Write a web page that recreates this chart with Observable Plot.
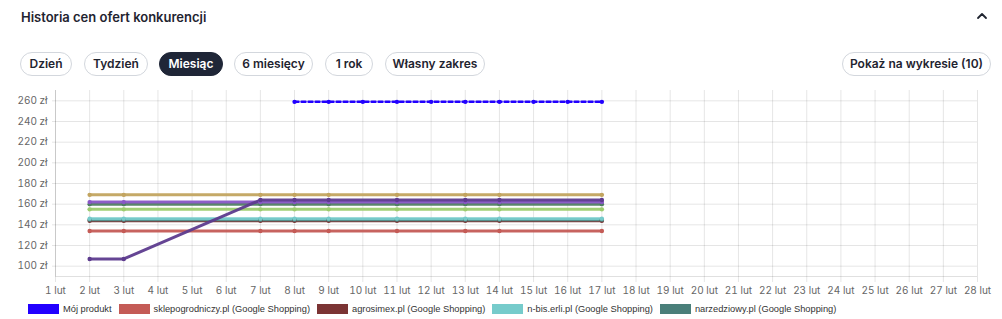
<!DOCTYPE html>
<html>
<head>
<meta charset="utf-8">
<script src="https://cdn.jsdelivr.net/npm/d3@7"></script>
<script src="https://cdn.jsdelivr.net/npm/@observablehq/plot@0.6"></script>
<style>
  html, body { margin: 0; padding: 0; background: #fff; }
  body { width: 1002px; height: 319px; position: relative; overflow: hidden; font-family: Inter, "Noto Sans", sans-serif; color: #1f2430; }
  #title { position: absolute; left: 21px; top: 8px; font-size: 13px; font-weight: 600; line-height: 18px; color: #1f2430; }
  #chev { position: absolute; left: 976px; top: 11px; }
  .btn { position: absolute; top: 52px; height: 24px; box-sizing: border-box; border: 1px solid #d3d7dd; border-radius: 12px; font-size: 12px; font-weight: 600; line-height: 22px; text-align: center; color: #1f2430; background: #fff; }
  .btn.active { background: #1f2637; border-color: #1f2637; color: #fff; }
  #chart { position: absolute; left: 0; top: 85px; }
  #legend { position: absolute; left: 28px; top: 304px; display: flex; align-items: center; font-family: "Liberation Sans", Arial, sans-serif; font-size: 9.3px; color: #333; white-space: nowrap; }
  .item { display: flex; align-items: center; margin-right: 7px; }
  .sw { width: 31px; height: 10px; margin-right: 4px; box-sizing: border-box; }
</style>
</head>
<body>
<div id="title">Historia cen ofert konkurencji</div>
<svg id="chev" width="12" height="10" viewBox="0 0 12 10"><polyline points="2,7 6,3 10,7" fill="none" stroke="#1f2430" stroke-width="1.8" stroke-linecap="round" stroke-linejoin="round"/></svg>
<div id="buttons"></div>
<div id="chart"></div>
<div id="legend"></div>
<script>
// ---- data ----
const periodButtons = ["Dzień", "Tydzień", "Miesiąc", "6 miesięcy", "1 rok", "Własny zakres"];
const activeButton = "Miesiąc";
const showButton = "Pokaż na wykresie (10)";

const dayTicks = [1,2,3,4,5,6,7,8,9,10,11,12,13,14,15,16,17,18,19,20,21,22,23,24,25,26,27,28];
const priceTicks = [100,120,140,160,180,200,220,240,260];

const myName = "Mój produkt";
const myDays = [8,9,10,11,12,13,14,15,16,17];
const myPrices = [259,259,259,259,259,259,259,259,259,259];

const compDays = [2,3,7,8,9,11,13,14,17];
const seriesNames = [
  "sklepogrodniczy.pl (Google Shopping)",
  "agrosimex.pl (Google Shopping)",
  "n-bis.erli.pl (Google Shopping)",
  "narzedziowy.pl (Google Shopping)",
  "oferta 6",
  "oferta 7",
  "oferta 8",
  "oferta 9",
  "oferta 10"
];
const sklepogrodniczy = [134,134,134,134,134,134,134,134,134];
const agrosimex       = [144,144,144,144,144,144,144,144,144];
const nbis            = [146,146,146,146,146,146,146,146,146];
const narzedziowy     = [160,160,160,160,160,160,160,160,160];
const oferta6         = [169,169,169,169,169,169,169,169,169];
const oferta7         = [162,162,162,162,162,162,162,162,162];
const oferta8         = [155,155,155,155,155,155,155,155,155];
const oferta9         = [107,107,164,164,164,164,164,164,164];
const oferta10        = [145,145,145,145,145,145,145,145,145];
const seriesValues = [sklepogrodniczy, agrosimex, nbis, narzedziowy, oferta6, oferta7, oferta8, oferta9, oferta10];
const seriesColors = ["#c45b56", "#7b3434", "#76cbcb", "#4f7f62", "#c2a45f", "#8856c6", "#9dcc6e", "#5d3b8e", "#4a7f7a"];
const myColor = "#2200ff";
const legendNames = [myName, seriesNames[0], seriesNames[1], seriesNames[2], seriesNames[3]];
const legendColors = [myColor, "#c45b56", "#7b3434", "#76cbcb", "#4a7f7a"];

// ---- buttons ----
const btnLefts = [20, 84, 159, 234, 325, 385];
const btnWidths = [52, 64, 64, 79, 48, 100];
const bc = document.getElementById("buttons");
periodButtons.forEach((b, i) => {
  const d = document.createElement("div");
  d.className = "btn" + (b === activeButton ? " active" : "");
  d.style.left = btnLefts[i] + "px";
  d.style.width = btnWidths[i] + "px";
  d.textContent = b;
  bc.appendChild(d);
});
const sb = document.createElement("div");
sb.className = "btn";
sb.style.left = "842px"; sb.style.width = "149px";
sb.textContent = showButton;
bc.appendChild(sb);

// ---- table ----
const comp = [];
seriesNames.forEach((n, si) => {
  compDays.forEach((d, i) => comp.push({name: n, day: d, price: seriesValues[si][i]}));
});
const mine = myDays.map((d, i) => ({name: myName, day: d, price: myPrices[i]}));
const order = [0, 1, 8, 2, 6, 3, 4, 5, 7];
const compOrdered = order.flatMap(si => comp.filter(r => r.name === seriesNames[si]));

const colorDomain = [myName, ...seriesNames];
const colorRange = [myColor, ...seriesColors];

const chart = Plot.plot({
  width: 1002,
  height: 213,
  marginLeft: 55,
  marginRight: 25,
  marginTop: 5,
  marginBottom: 22,
  style: {fontFamily: "Inter, 'Noto Sans', sans-serif", fontSize: "10px", color: "#666", background: "transparent"},
  x: {domain: [1, 28], ticks: dayTicks, tickFormat: d => d + " lut", label: null},
  y: {domain: [90, 270], ticks: priceTicks, tickFormat: d => d + " zł", label: null},
  color: {domain: colorDomain, range: colorRange},
  marks: [
    Plot.gridX(dayTicks, {stroke: "#000", strokeOpacity: 0.1, y1: 90, y2: 270}),
    Plot.gridY(priceTicks, {stroke: "#000", strokeOpacity: 0.1}),
    Plot.ruleX([1], {stroke: "#000", strokeOpacity: 0.12}),
    Plot.ruleY([90], {stroke: "#000", strokeOpacity: 0.12}),
    Plot.axisX({ticks: dayTicks, tickFormat: d => d + " lut", tickSize: 6, tickPadding: 4, stroke: "#000", strokeOpacity: 0.1, fill: "#666", fontSize: 10}),
    Plot.axisY({ticks: priceTicks, tickFormat: d => d + " zł", tickSize: 3, tickPadding: 5, stroke: "#000", strokeOpacity: 0.1, fill: "#666", fontSize: 10}),
    Plot.line(compOrdered, {x: "day", y: "price", z: "name", stroke: "name", strokeWidth: 3, strokeOpacity: 0.95}),
    Plot.dot(compOrdered, {x: "day", y: "price", fill: "name", r: 2.2}),
    Plot.line(mine, {x: "day", y: "price", stroke: "name", strokeWidth: 2.5, strokeDasharray: "4,3"}),
    Plot.dot(mine, {x: "day", y: "price", fill: "name", r: 2.2})
  ]
});
document.getElementById("chart").appendChild(chart);

// ---- legend ----
const lg = document.getElementById("legend");
legendNames.forEach((n, i) => {
  const it = document.createElement("div");
  it.className = "item";
  const sw = document.createElement("div");
  sw.className = "sw";
  sw.style.background = legendColors[i];
  const t = document.createElement("span");
  t.textContent = n;
  it.appendChild(sw); it.appendChild(t);
  lg.appendChild(it);
});
</script>
</body>
</html>
